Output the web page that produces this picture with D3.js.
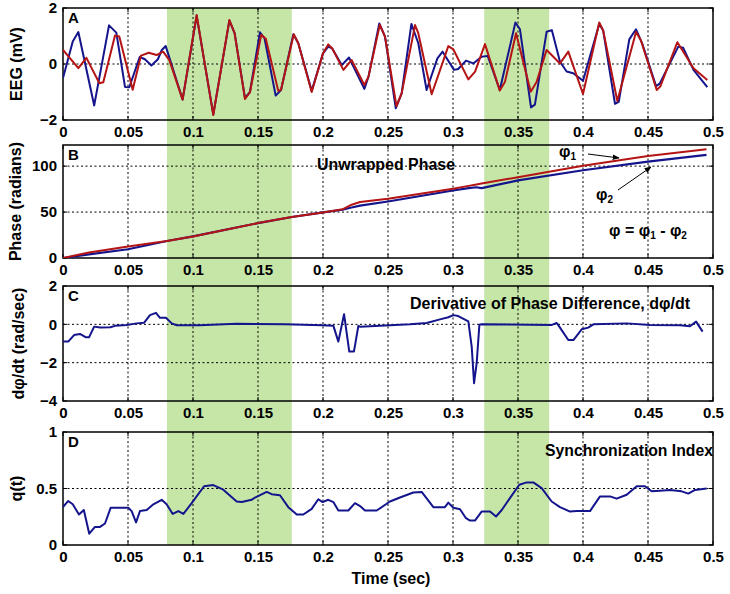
<!DOCTYPE html>
<html><head><meta charset="utf-8">
<script src="https://cdn.jsdelivr.net/npm/d3@7"></script>
<style>
body{margin:0;background:#fff;}
text{font-family:"Liberation Sans",Arial,sans-serif;font-weight:bold;fill:#000;}
</style></head>
<body><svg id="c" width="730" height="594"></svg>
<script>
// ---------- data ----------
const xTicks = [0,0.05,0.1,0.15,0.2,0.25,0.3,0.35,0.4,0.45,0.5];
const xTickLabels = ["0","0.05","0.1","0.15","0.2","0.25","0.3","0.35","0.4","0.45","0.5"];
const bands = [[0.08,0.176],[0.324,0.374]];

// Panel A: EEG (mV)
const eegBlueT = [0,0.0075,0.0118,0.024,0.0354,0.041,0.0477,0.051,0.059,0.063,0.068,0.073,0.076,0.079,0.092,0.1028,0.1156,0.128,0.132,0.140,0.1438,0.1515,0.155,0.1636,0.1677,0.1772,0.181,0.1913,0.200,0.204,0.207,0.2144,0.220,0.2318,0.235,0.2433,0.2477,0.256,0.2605,0.268,0.2733,0.2797,0.288,0.292,0.3008,0.304,0.31,0.3156,0.322,0.3267,0.336,0.348,0.3515,0.360,0.363,0.372,0.376,0.3823,0.3874,0.3925,0.400,0.4125,0.4155,0.4246,0.4275,0.4356,0.4408,0.4455,0.4562,0.459,0.4733,0.477,0.485,0.4956];
const eegBlueV = [-0.50,0.80,1.14,-1.48,1.38,1.12,-0.82,-0.83,0.25,0.17,-0.05,0.17,0.50,0.64,-1.27,1.72,-1.80,1.55,1.10,-1.22,-1.00,1.13,0.92,-1.13,-0.93,1.06,0.74,-0.96,0.38,0.62,0.56,-0.04,0.23,-0.89,-0.45,1.45,0.98,-1.58,-1.05,1.43,0.74,-0.93,0.20,0.44,-0.21,-0.18,0.12,0.02,0.26,0.29,-0.93,1.48,1.24,-1.55,-1.45,1.15,1.21,0.08,-0.27,-0.33,-0.60,1.43,1.20,-1.42,-1.35,0.88,1.24,0.74,-0.79,-0.70,0.62,0.58,-0.21,-0.83];
const eegRedT = [0,0.0118,0.018,0.028,0.031,0.040,0.0433,0.0536,0.060,0.066,0.072,0.077,0.0818,0.092,0.1028,0.1156,0.128,0.132,0.140,0.1438,0.1525,0.156,0.1656,0.1677,0.1775,0.181,0.1913,0.200,0.204,0.207,0.2157,0.222,0.2318,0.235,0.2437,0.2477,0.2565,0.2605,0.2708,0.2733,0.2836,0.2964,0.3003,0.3118,0.317,0.3246,0.336,0.340,0.3485,0.3598,0.3644,0.372,0.3823,0.3887,0.400,0.4125,0.4155,0.4264,0.4408,0.4445,0.4567,0.4595,0.4726,0.485,0.4956];
const eegRedV = [0.50,-0.15,0.22,-0.69,-0.65,1.02,0.98,-0.92,0.30,0.40,0.32,0.44,0.14,-1.27,1.75,-1.82,1.57,1.10,-1.25,-1.01,1.04,0.90,-0.96,-0.93,1.06,0.74,-1.00,0.38,0.70,0.56,-0.21,0.14,-0.75,-0.45,1.40,0.98,-1.50,-1.05,1.39,1.10,-1.08,0.64,0.52,-0.55,-0.27,0.71,-0.95,-0.63,1.10,-0.99,-0.63,0.50,0.02,0.44,-1.07,1.48,1.20,-1.32,1.14,0.85,-0.93,-0.80,0.78,-0.15,-0.57];

// Panel B: unwrapped phase (radians)
const phaseT  = [0,0.02,0.05,0.08,0.1,0.15,0.176,0.2,0.215,0.222,0.2285,0.25,0.3,0.312,0.318,0.322,0.35,0.4,0.45,0.495];
const phi1V   = [0,6,12.5,18.5,23.5,38,44.6,49.6,53,58,61,64.5,75.5,78.5,80,81,88,100.5,111,118.5];
const phi2V   = [0,4,9.5,18.5,23.5,38,44.6,49.6,52.5,55,57,61.5,73.5,76,77,76,84.5,95.5,105,112.3];

// Panel C: derivative of phase difference (rad/sec)
const dT = [0,0.004,0.0085,0.013,0.0177,0.020,0.024,0.0285,0.0365,0.040,0.049,0.0567,0.0623,0.0669,0.0715,0.0746,0.0792,0.0836,0.0874,0.105,0.1336,0.1708,0.199,0.208,0.2118,0.2162,0.2202,0.2238,0.2272,0.2285,0.267,0.2797,0.29,0.2964,0.3003,0.304,0.3118,0.3144,0.3162,0.3182,0.3203,0.322,0.376,0.3798,0.3823,0.3887,0.3926,0.399,0.404,0.408,0.4336,0.4515,0.4746,0.4823,0.487,0.492];
const dV = [-0.9,-0.9,-0.56,-0.5,-0.68,-0.68,-0.12,-0.17,-0.15,-0.08,-0.03,0.05,0.08,0.48,0.6,0.34,0.34,0.05,-0.05,-0.05,0.03,0.0,-0.05,-0.08,-0.9,0.53,-1.42,-1.42,-0.08,-0.12,0.0,0.07,0.26,0.37,0.48,0.43,0.15,-1.17,-3.07,-2.03,-0.02,0.0,-0.03,0.07,-0.17,-0.82,-0.82,-0.26,-0.17,0.0,0.05,-0.03,-0.05,-0.1,0.14,-0.38];

// Panel D: synchronization index q(t)
const qT = [0,0.004,0.0075,0.0123,0.016,0.0202,0.0246,0.0285,0.0323,0.0367,0.0502,0.0528,0.0562,0.0592,0.0644,0.0695,0.0759,0.0797,0.0844,0.0887,0.0926,0.099,0.1085,0.1156,0.1233,0.1336,0.1375,0.1451,0.1477,0.1567,0.1605,0.1669,0.1733,0.1798,0.1849,0.1913,0.1964,0.1997,0.204,0.208,0.2118,0.2195,0.2246,0.2285,0.2323,0.2413,0.2515,0.2592,0.2695,0.2759,0.2849,0.2938,0.2964,0.3003,0.3054,0.31,0.3131,0.3169,0.322,0.3285,0.3331,0.3375,0.3438,0.351,0.3567,0.3618,0.3682,0.3759,0.3823,0.39,0.3951,0.4054,0.4131,0.4208,0.4259,0.4336,0.4413,0.4477,0.4528,0.4592,0.4669,0.4759,0.481,0.4862,0.4951];
const qV = [0.335,0.39,0.36,0.27,0.31,0.10,0.16,0.16,0.19,0.33,0.33,0.30,0.20,0.30,0.31,0.36,0.40,0.36,0.275,0.30,0.275,0.37,0.52,0.53,0.49,0.385,0.38,0.40,0.42,0.47,0.45,0.44,0.335,0.27,0.27,0.32,0.405,0.38,0.40,0.38,0.305,0.305,0.37,0.345,0.305,0.305,0.385,0.42,0.465,0.47,0.335,0.335,0.375,0.33,0.317,0.237,0.216,0.216,0.296,0.296,0.252,0.31,0.415,0.533,0.554,0.554,0.504,0.385,0.335,0.296,0.30,0.30,0.43,0.43,0.41,0.445,0.52,0.52,0.475,0.48,0.487,0.475,0.455,0.487,0.50];

// ---------- drawing ----------
const svg = d3.select("#c");
const x = d3.scaleLinear().domain([0,0.5]).range([63,713]);
const BLUE = "#14148c", RED = "#b41414", GREEN = "#c6e6a8";

const panels = [
  {id:"A", dom:[-2,2], rng:[120,8], ticks:[-2,0,2], grid:[0], ylab:"EEG (mV)", ylx:16},
  {id:"B", dom:[0,123], rng:[258,145], ticks:[0,50,100], grid:[50,100], ylab:"Phase (radians)", ylx:15},
  {id:"C", dom:[-4,2], rng:[401,286], ticks:[-4,-2,0,2], grid:[-2,0], ylab:"dφ/dt (rad/sec)", ylx:18},
  {id:"D", dom:[0,1], rng:[545,432], ticks:[0,0.5,1], grid:[0.5], ylab:"q(t)", ylx:16}
];
panels.forEach(p => p.y = d3.scaleLinear().domain(p.dom).range(p.rng));

// green bands spanning all panels
svg.append("g").selectAll("rect").data(bands).join("rect")
  .attr("x", d => x(d[0])).attr("width", d => x(d[1]) - x(d[0]))
  .attr("y", 8).attr("height", 545 - 8).attr("fill", GREEN);

const defs = svg.append("defs");
defs.append("marker").attr("id","arr").attr("viewBox","0 0 10 10").attr("refX",9).attr("refY",5)
  .attr("markerWidth",7).attr("markerHeight",7).attr("orient","auto")
  .append("path").attr("d","M0,1 L10,5 L0,9 z").attr("fill","#000");

panels.forEach((p,i) => {
  const g = svg.append("g");
  const top = p.rng[1], bot = p.rng[0];
  defs.append("clipPath").attr("id","clip"+i).append("rect")
    .attr("x", x(0)).attr("y", top).attr("width", x(0.5)-x(0)).attr("height", bot-top);
  // grid
  g.selectAll(".gx").data(xTicks.slice(1,-1)).join("line")
    .attr("x1", d=>x(d)).attr("x2", d=>x(d)).attr("y1", top).attr("y2", bot)
    .attr("stroke","#000").attr("stroke-width",1).attr("stroke-dasharray","2,2.5");
  g.selectAll(".gy").data(p.grid).join("line")
    .attr("x1", x(0)).attr("x2", x(0.5)).attr("y1", d=>p.y(d)).attr("y2", d=>p.y(d))
    .attr("stroke","#000").attr("stroke-width",1).attr("stroke-dasharray","2,2.5");
  // axes via d3 axes
  const axB = d3.axisBottom(x).tickValues(xTicks).tickFormat((d,k)=>xTickLabels[k]).tickSize(0).tickPadding(6);
  const gxb = g.append("g").attr("transform",`translate(0,${bot})`).call(axB);
  gxb.select(".domain").remove();
  gxb.selectAll("text").attr("font-size",15).attr("font-family","Liberation Sans, Arial").attr("font-weight","bold").attr("fill","#000");
  const axL = d3.axisLeft(p.y).tickValues(p.ticks).tickFormat(d3.format("")).tickSize(0).tickPadding(6);
  const gyl = g.append("g").attr("transform",`translate(${x(0)},0)`).call(axL);
  gyl.select(".domain").remove();
  gyl.selectAll("text").attr("font-size",15).attr("font-family","Liberation Sans, Arial").attr("font-weight","bold").attr("fill","#000");
  // inward tick marks
  g.selectAll(".tb").data(xTicks).join("line")
    .attr("x1",d=>x(d)).attr("x2",d=>x(d)).attr("y1",bot).attr("y2",bot-4).attr("stroke","#000");
  g.selectAll(".tt").data(xTicks).join("line")
    .attr("x1",d=>x(d)).attr("x2",d=>x(d)).attr("y1",top).attr("y2",top+4).attr("stroke","#000");
  g.selectAll(".tl").data(p.ticks).join("line")
    .attr("x1",x(0)).attr("x2",x(0)+4).attr("y1",d=>p.y(d)).attr("y2",d=>p.y(d)).attr("stroke","#000");
  g.selectAll(".tr").data(p.ticks).join("line")
    .attr("x1",x(0.5)).attr("x2",x(0.5)-4).attr("y1",d=>p.y(d)).attr("y2",d=>p.y(d)).attr("stroke","#000");
  // box
  g.append("rect").attr("x",x(0)).attr("y",top).attr("width",x(0.5)-x(0)).attr("height",bot-top)
    .attr("fill","none").attr("stroke","#000").attr("stroke-width",1.5);
  // panel letter
  g.append("text").attr("x", x(0)+5).attr("y", top+15).attr("font-size",15).text(p.id);
  // y label
  g.append("text").attr("transform",`translate(${p.ylx+6},${(top+bot)/2}) rotate(-90)`)
    .attr("text-anchor","middle").attr("font-size",16).text(p.ylab);
  p.g = g; p.clip = "url(#clip"+i+")";
});

function drawLine(p, T, V, color, w) {
  const data = T.map((t,k)=>[t,V[k]]);
  p.g.append("path").datum(data).attr("clip-path", p.clip)
    .attr("fill","none").attr("stroke",color).attr("stroke-width",w).attr("stroke-linejoin","round")
    .attr("d", d3.line().x(d=>x(d[0])).y(d=>p.y(d[1])));
}
const [pA,pB,pC,pD] = panels;
drawLine(pA, eegBlueT, eegBlueV, BLUE, 2);
drawLine(pA, eegRedT, eegRedV, RED, 2);
drawLine(pB, phaseT, phi2V, BLUE, 2.2);
drawLine(pB, phaseT, phi1V, RED, 2);
drawLine(pC, dT, dV, BLUE, 2);
drawLine(pD, qT, qV, BLUE, 2);

// annotations
svg.append("text").attr("x",317).attr("y",170).attr("font-size",16).attr("textLength",138).attr("lengthAdjust","spacingAndGlyphs").text("Unwrapped Phase");
const t1 = svg.append("text").attr("x",559).attr("y",157).attr("font-size",16);
t1.append("tspan").text("φ"); t1.append("tspan").attr("font-size",10).attr("dy",3).text("1");
svg.append("line").attr("x1",588).attr("y1",154).attr("x2",619).attr("y2",158).attr("stroke","#000").attr("stroke-width",1).attr("marker-end","url(#arr)");
const t2 = svg.append("text").attr("x",596).attr("y",200).attr("font-size",16);
t2.append("tspan").text("φ"); t2.append("tspan").attr("font-size",10).attr("dy",3).text("2");
svg.append("line").attr("x1",618).attr("y1",190).attr("x2",651).attr("y2",167).attr("stroke","#000").attr("stroke-width",1).attr("marker-end","url(#arr)");
const t3 = svg.append("text").attr("x",609).attr("y",236).attr("font-size",16);
t3.append("tspan").text("φ = φ");
t3.append("tspan").attr("font-size",10).attr("dy",3).text("1");
t3.append("tspan").attr("dy",-3).text(" - φ");
t3.append("tspan").attr("font-size",10).attr("dy",3).text("2");
svg.append("text").attr("x",410).attr("y",309).attr("font-size",16).attr("textLength",280).attr("lengthAdjust","spacingAndGlyphs").text("Derivative of Phase Difference, dφ/dt");
svg.append("text").attr("x",545).attr("y",456).attr("font-size",16).attr("textLength",168).attr("lengthAdjust","spacingAndGlyphs").text("Synchronization Index");
svg.append("text").attr("x",391).attr("y",584).attr("text-anchor","middle").attr("font-size",16).text("Time (sec)");
</script></body></html>
